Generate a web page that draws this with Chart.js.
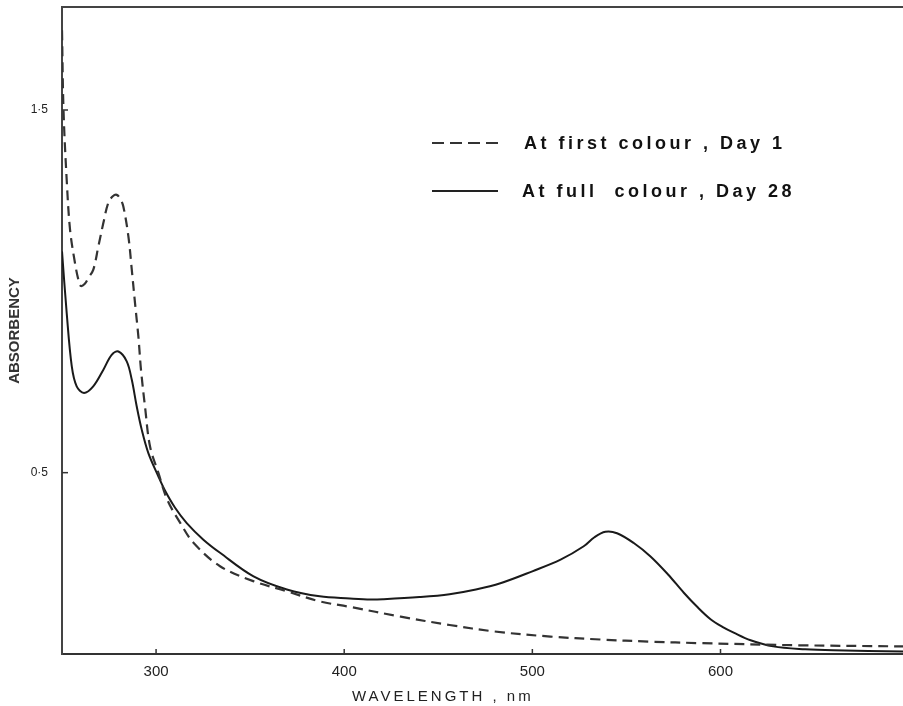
<!DOCTYPE html>
<html><head><meta charset="utf-8">
<script src="https://cdn.jsdelivr.net/npm/chart.js@4"></script>
<style>html,body{margin:0;padding:0;background:#fff;overflow:hidden}#wrap{width:903px;height:706px;position:relative}</style>
</head><body><div id="wrap"><canvas id="c" width="903" height="706"></canvas></div>
<script>
const wavelengthsDay1 = [250, 250.8, 252.5, 254.3, 256.9, 258.7, 259.9, 262, 264, 266.6, 269.3, 272, 274.6, 277, 279.1, 281, 282.6, 285.3, 287.1, 288.8, 290.6, 292, 294.1, 296.8, 301.2, 306, 313, 320, 334, 351.6, 369.5, 387, 403, 430, 456, 480, 509.6, 536, 563, 589, 642, 697];
const absorbanceDay1 = [1.72, 1.50, 1.307, 1.169, 1.078, 1.032, 1.015, 1.02, 1.037, 1.059, 1.123, 1.189, 1.244, 1.262, 1.266, 1.255, 1.234, 1.151, 1.059, 0.968, 0.875, 0.783, 0.683, 0.572, 0.500, 0.425, 0.36, 0.306, 0.242, 0.201, 0.173, 0.145, 0.130, 0.103, 0.080, 0.062, 0.048, 0.040, 0.034, 0.030, 0.024, 0.021];
const wavelengthsDay28 = [250, 252.5, 255.2, 257.8, 261.7, 266.6, 272, 276.4, 280, 284.4, 287.1, 289.7, 292.4, 295.9, 301.2, 304.8, 310, 316.3, 325, 334, 351.8, 369.5, 387, 403, 414, 421, 440, 456, 470, 483, 500, 515, 527.3, 533, 538.8, 545, 553.9, 562.8, 572, 580.5, 588, 594.7, 601, 607, 616, 628, 645, 660, 697];
const absorbanceDay28 = [1.11, 0.94, 0.793, 0.738, 0.720, 0.738, 0.784, 0.825, 0.834, 0.807, 0.756, 0.683, 0.618, 0.554, 0.490, 0.450, 0.404, 0.361, 0.316, 0.279, 0.214, 0.178, 0.159, 0.153, 0.150, 0.151, 0.157, 0.165, 0.178, 0.195, 0.228, 0.26, 0.297, 0.322, 0.337, 0.333, 0.306, 0.269, 0.22, 0.169, 0.128, 0.096, 0.075, 0.059, 0.038, 0.021, 0.013, 0.010, 0.007];
const xTickValues = [300, 400, 500, 600];
const xTickLabels = ['300', '400', '500', '600'];
const yTickValues = [0.5, 1.5];
const yTickLabels = ['0·5', '1·5'];
const seriesLabels = ['At first colour , Day 1', 'At full  colour , Day 28'];
const xAxisTitle = 'WAVELENGTH , nm';
const yAxisTitle = 'ABSORBENCY';

const FONT = '"Liberation Sans", Arial, sans-serif';

const decor = {
  id: 'decor',
  afterDraw(chart) {
    const ctx = chart.ctx, a = chart.chartArea;
    const xs = chart.scales.x, ys = chart.scales.y;
    ctx.save();
    ctx.strokeStyle = '#444'; ctx.lineWidth = 2;
    ctx.beginPath(); ctx.moveTo(a.left, a.top); ctx.lineTo(a.right, a.top); ctx.stroke();
    ctx.lineWidth = 1.5; ctx.strokeStyle = '#333';
    xTickValues.forEach(v => { const px = xs.getPixelForValue(v); ctx.beginPath(); ctx.moveTo(px, a.bottom); ctx.lineTo(px, a.bottom - 5); ctx.stroke(); });
    yTickValues.forEach(v => { const py = ys.getPixelForValue(v); ctx.beginPath(); ctx.moveTo(a.left, py); ctx.lineTo(a.left + 6, py); ctx.stroke(); });
    ctx.lineWidth = 2.2; ctx.strokeStyle = '#333';
    ctx.setLineDash([12, 6]);
    ctx.beginPath(); ctx.moveTo(432, 143); ctx.lineTo(502, 143); ctx.stroke();
    ctx.setLineDash([]);
    ctx.strokeStyle = '#222';
    ctx.beginPath(); ctx.moveTo(432, 191); ctx.lineTo(498, 191); ctx.stroke();
    ctx.fillStyle = '#111';
    ctx.font = 'bold 18px ' + FONT;
    ctx.textBaseline = 'alphabetic'; ctx.textAlign = 'left';
    ctx.letterSpacing = '3.5px';
    ctx.fillText(seriesLabels[0], 524, 149);
    ctx.fillText(seriesLabels[1], 522, 197);
    ctx.font = '15px ' + FONT;
    ctx.fillStyle = '#222';
    ctx.letterSpacing = '3px';
    ctx.fillText(xAxisTitle, 352, 701);
    ctx.restore();
  }
};

new Chart(document.getElementById('c'), {
  type: 'line',
  data: {
    datasets: [
      {
        label: seriesLabels[0],
        data: wavelengthsDay1.map((w, i) => ({ x: w, y: absorbanceDay1[i] })),
        borderColor: '#333', borderWidth: 2.2, borderDash: [10, 6],
        pointRadius: 0, fill: false, tension: 0.35
      },
      {
        label: seriesLabels[1],
        data: wavelengthsDay28.map((w, i) => ({ x: w, y: absorbanceDay28[i] })),
        borderColor: '#1a1a1a', borderWidth: 2,
        pointRadius: 0, fill: false, tension: 0.35
      }
    ]
  },
  options: {
    responsive: false, animation: false, devicePixelRatio: 1,
    layout: { padding: { top: 7, left: 0, right: 0, bottom: 0 } },
    plugins: { legend: { display: false }, tooltip: { enabled: false } },
    scales: {
      x: {
        type: 'linear', min: 250, max: 697,
        afterBuildTicks: s => { s.ticks = xTickValues.map(v => ({ value: v })); },
        afterFit: s => { s.height = 52; s.paddingLeft = 0; s.paddingRight = 0; },
        ticks: {
          callback: v => xTickLabels[xTickValues.indexOf(v)],
          font: { family: FONT, size: 15 }, color: '#222', padding: 9,
          maxRotation: 0, autoSkip: false
        },
        grid: { display: false, drawTicks: false },
        border: { display: true, color: '#333', width: 2 }
      },
      y: {
        type: 'linear', min: 0, max: 1.784,
        afterBuildTicks: s => { s.ticks = yTickValues.map(v => ({ value: v })); },
        afterFit: s => { s.width = 62; s.paddingTop = 0; s.paddingBottom = 0; },
        ticks: {
          callback: v => yTickLabels[yTickValues.indexOf(v)],
          font: { family: FONT, size: 12 }, color: '#222', padding: 14, autoSkip: false
        },
        grid: { display: false, drawTicks: false },
        border: { display: true, color: '#444', width: 2 },
        title: {
          display: true, text: yAxisTitle, color: '#333',
          font: { family: FONT, size: 15, weight: 'bold' },
          padding: { top: 6, bottom: 0 }
        }
      }
    }
  },
  plugins: [decor]
});
</script>
</body></html>
